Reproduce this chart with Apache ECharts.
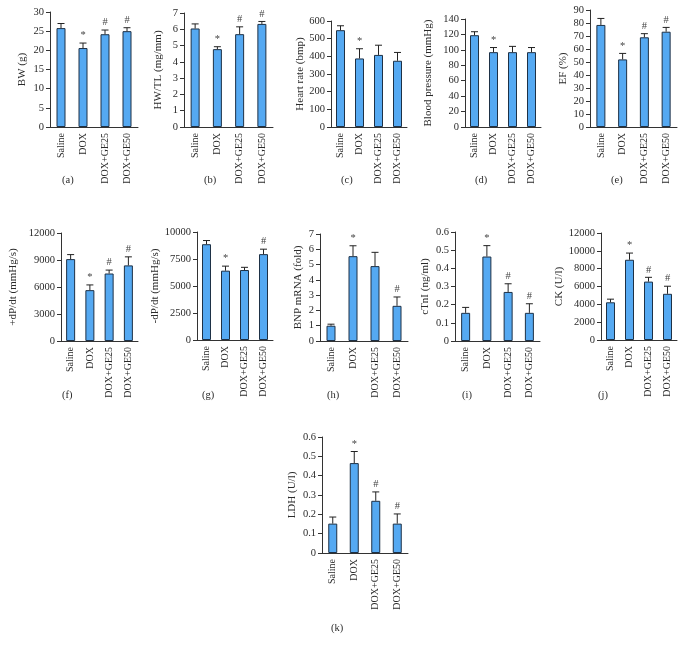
<!DOCTYPE html>
<html><head><meta charset="utf-8">
<script src="https://cdn.jsdelivr.net/npm/echarts@6/dist/echarts.min.js"></script>
<style>html,body{margin:0;padding:0;background:#fff}#c{width:688px;height:652px}</style>
</head><body><div id="c"></div>
<script>
const categories = ['Saline', 'DOX', 'DOX+GE25', 'DOX+GE50'];

const bwMean = [25.8, 20.6, 24.2, 25.0];
const bwErr = [1.2, 1.3, 1.1, 0.9];
const bwMarks = ['', '*', '#', '#'];

const hwtlMean = [6.05, 4.78, 5.70, 6.33];
const hwtlErr = [0.28, 0.15, 0.45, 0.15];
const hwtlMarks = ['', '*', '#', '#'];

const hrMean = [548, 388, 408, 375];
const hrErr = [25, 55, 55, 47];
const hrMarks = ['', '*', '', ''];

const bpMean = [119, 97, 97, 97];
const bpErr = [4.5, 6, 7.5, 6];
const bpMarks = ['', '*', '', ''];

const efMean = [78.5, 52, 69, 73.3];
const efErr = [5, 4.6, 2.8, 3.3];
const efMarks = ['', '*', '#', '#'];

const pdpMean = [9100, 5650, 7500, 8400];
const pdpErr = [500, 580, 380, 950];
const pdpMarks = ['', '*', '#', '#'];

const ndpMean = [8870, 6420, 6480, 7950];
const ndpErr = [340, 420, 250, 460];
const ndpMarks = ['', '*', '', '#'];

const bnpMean = [1.0, 5.55, 4.9, 2.3];
const bnpErr = [0.1, 0.68, 0.9, 0.58];
const bnpMarks = ['', '*', '', '#'];

const ctniMean = [0.155, 0.465, 0.27, 0.155];
const ctniErr = [0.03, 0.06, 0.045, 0.05];
const ctniMarks = ['', '*', '#', '#'];

const ckMean = [4230, 9000, 6550, 5180];
const ckErr = [350, 750, 480, 850];
const ckMarks = ['', '*', '#', '#'];

const ldhMean = [0.152, 0.465, 0.27, 0.152];
const ldhErr = [0.034, 0.06, 0.046, 0.05];
const ldhMarks = ['', '*', '#', '#'];

const yNames = ['BW (g)', 'HW/TL (mg/mm)', 'Heart rate (bmp)', 'Blood pressure (mmHg)', 'EF (%)',
  '+dP/dt (mmHg/s)', '-dP/dt (mmHg/s)', 'BNP mRNA (fold)', 'cTnI (ng/ml)', 'CK (U/l)', 'LDH (U/l)'];
const panelLetters = ['(a)', '(b)', '(c)', '(d)', '(e)', '(f)', '(g)', '(h)', '(i)', '(j)', '(k)'];
const yMax = [30, 7, 600, 140, 90, 12000, 10000, 7, 0.6, 12000, 0.6];
const yStep = [5, 1, 100, 20, 10, 3000, 2500, 1, 0.1, 2000, 0.1];

const means = [bwMean, hwtlMean, hrMean, bpMean, efMean, pdpMean, ndpMean, bnpMean, ctniMean, ckMean, ldhMean];
const errs = [bwErr, hwtlErr, hrErr, bpErr, efErr, pdpErr, ndpErr, bnpErr, ctniErr, ckErr, ldhErr];
const marks = [bwMarks, hwtlMarks, hrMarks, bpMarks, efMarks, pdpMarks, ndpMarks, bnpMarks, ctniMarks, ckMarks, ldhMarks];

// layout: [left, top, width, height, nameGap, labelX, labelY]
const layout = [
  [50, 12, 88, 115, 22, 70, 182],
  [184, 13, 89, 114, 20, 212, 182],
  [331, 21, 76, 106, 22, 349, 182],
  [465, 19, 76, 108, 31, 483, 182],
  [590, 10, 87, 117, 21, 619, 182],
  [61, 233, 77, 108, 42, 70, 397],
  [197, 232, 76, 108, 36, 210, 397],
  [320, 234, 88, 107, 16, 335, 397],
  [455, 232, 85, 109, 24, 470, 397],
  [601, 233, 76, 107, 35, 606, 397],
  [322, 437, 86, 116, 24, 339, 630]
];

const FONT = 'Liberation Serif';
const TXT = '#2a2a2a';
const AX = '#333';

const grid = [], xAxis = [], yAxis = [], series = [], graphic = [];
for (let i = 0; i < means.length; i++) {
  const L = layout[i];
  grid.push({left: L[0], top: L[1], width: L[2], height: L[3], containLabel: false});
  xAxis.push({
    type: 'category', gridIndex: i, data: categories,
    axisLine: {lineStyle: {color: AX, width: 1}},
    axisTick: {alignWithLabel: true, length: 4, lineStyle: {color: AX}},
    axisLabel: {rotate: 90, fontFamily: FONT, fontSize: 10, color: TXT, margin: 6, interval: 0}
  });
  yAxis.push({
    type: 'value', gridIndex: i, min: 0, max: yMax[i], interval: yStep[i],
    name: yNames[i], nameLocation: 'middle', nameGap: L[4], nameRotate: 90,
    nameTextStyle: {fontFamily: FONT, fontSize: 11, color: TXT},
    axisLine: {show: true, lineStyle: {color: AX, width: 1}},
    axisTick: {show: true, length: 4, lineStyle: {color: AX}},
    splitLine: {show: false},
    axisLabel: {fontFamily: FONT, fontSize: 10.5, color: TXT, margin: 6,
      formatter: function (v) { return String(Math.round(v * 1000) / 1000); }}
  });
  series.push({
    type: 'bar', xAxisIndex: i, yAxisIndex: i, data: means[i], barWidth: 9,
    itemStyle: {color: '#55a9f2', borderColor: '#1e3146', borderWidth: 1}
  });
  const m = means[i], e = errs[i], mk = marks[i];
  series.push({
    type: 'custom', xAxisIndex: i, yAxisIndex: i, z: 5,
    data: m.map((v, k) => [k, v, v + e[k]]),
    renderItem: function (params, api) {
      const k = api.value(0);
      const p0 = api.coord([k, api.value(1)]);
      const p1 = api.coord([k, api.value(2)]);
      const hw = 3.5;
      const children = [
        {type: 'line', shape: {x1: p0[0], y1: p0[1], x2: p1[0], y2: p1[1]}, style: {stroke: '#222', lineWidth: 1}},
        {type: 'line', shape: {x1: p1[0] - hw, y1: p1[1], x2: p1[0] + hw, y2: p1[1]}, style: {stroke: '#222', lineWidth: 1}}
      ];
      const t = mk[k];
      if (t) {
        children.push({type: 'text', style: {text: t, x: p1[0], y: p1[1] - 2, align: 'center', verticalAlign: 'bottom',
          font: '10.5px "' + FONT + '"', fill: '#444'}});
      }
      return {type: 'group', children: children};
    }
  });
  graphic.push({type: 'text', left: L[5] - 8, top: L[6] - 7,
    style: {text: panelLetters[i], font: '10.5px "' + FONT + '"', fill: TXT}});
}

const chart = echarts.init(document.getElementById('c'), null, {renderer: 'canvas'});
chart.setOption({animation: false, grid, xAxis, yAxis, series, graphic});
</script>
</body></html>
